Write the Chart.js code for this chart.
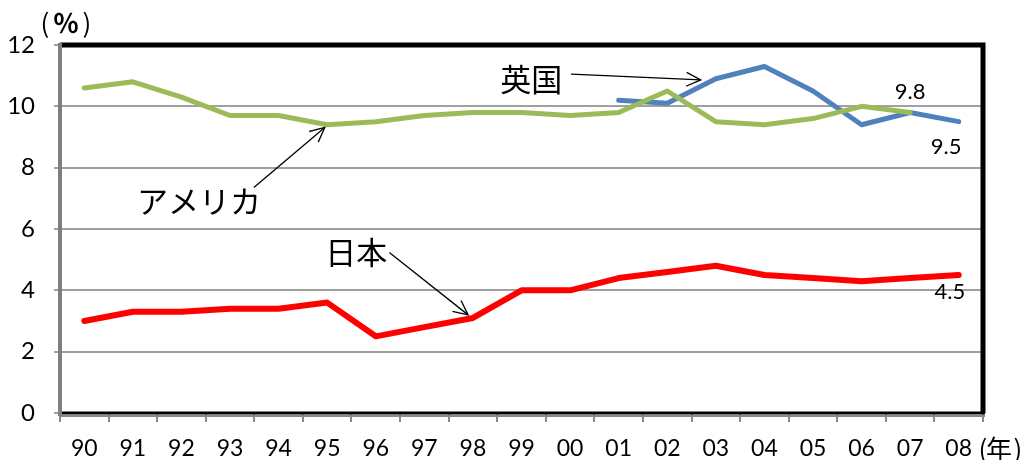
<!DOCTYPE html>
<html>
<head>
<meta charset="utf-8">
<script src="https://cdn.jsdelivr.net/npm/chart.js@4/dist/chart.umd.min.js"></script>
<style>
  html, body { margin: 0; padding: 0; background: #fff; }
  #wrap { width: 1032px; height: 460px; position: relative; }
</style>
</head>
<body>
<div id="wrap"><canvas id="myChart"></canvas></div>
<script>
const years = ['90','91','92','93','94','95','96','97','98','99','00','01','02','03','04','05','06','07','08'];
const japan = [3.0, 3.3, 3.3, 3.4, 3.4, 3.6, 2.5, 2.8, 3.1, 4.0, 4.0, 4.4, 4.6, 4.8, 4.5, 4.4, 4.3, 4.4, 4.5];
const america = [10.6, 10.8, 10.3, 9.7, 9.7, 9.4, 9.5, 9.7, 9.8, 9.8, 9.7, 9.8, 10.5, 9.5, 9.4, 9.6, 10.0, 9.8, null];
const uk = [null, null, null, null, null, null, null, null, null, null, null, 10.2, 10.1, 10.9, 11.3, 10.5, 9.4, 9.8, 9.5];
const yTicks = [0, 2, 4, 6, 8, 10, 12];

// callouts: text at (x index, value), arrow [from idx, from val, to idx, to val]
const callouts = [
  { text: '英国', x: 9.2, y: 10.9, arrow: [10.02, 11.05, 12.69, 10.86] },
  { text: 'アメリカ', x: 2.36, y: 6.9, arrow: [3.49, 7.35, 4.95, 9.31] },
  { text: '日本', x: 5.6, y: 5.23, arrow: [6.28, 5.23, 7.9, 3.2] }
];
const valueLabels = [
  { text: '9.8', x: 17.0, y: 10.46 },
  { text: '9.5', x: 17.74, y: 8.69 },
  { text: '4.5', x: 17.82, y: 3.95 }
];

const jpFont = '"Noto Sans CJK JP", "Noto Sans", sans-serif';
const numFont = 'Lato, "Noto Sans", sans-serif';

function arrowHead(ctx, x1, y1, x2, y2, len) {
  const a = Math.atan2(y2 - y1, x2 - x1);
  ctx.beginPath();
  ctx.moveTo(x2 - len * Math.cos(a - 0.45), y2 - len * Math.sin(a - 0.45));
  ctx.lineTo(x2, y2);
  ctx.lineTo(x2 - len * Math.cos(a + 0.45), y2 - len * Math.sin(a + 0.45));
  ctx.stroke();
}

// unit label drawn piece by piece: "(" text ")" with glyph centres given
function unitLabel(ctx, mid, x0, x1, x2, y, size, bold) {
  ctx.font = size + 'px ' + jpFont;
  ctx.fillText('(', x0, y);
  ctx.fillText(')', x2, y);
  ctx.font = (bold ? 'bold ' : '') + size + 'px ' + jpFont;
  ctx.fillText(mid, x1, y);
}

const frame = {
  id: 'frame',
  beforeDatasetsDraw(chart) {
    const { ctx, chartArea: a } = chart;
    ctx.save();
    // top + right black border
    ctx.strokeStyle = '#000';
    ctx.lineWidth = 5;
    ctx.beginPath();
    ctx.moveTo(a.left, a.top);
    ctx.lineTo(a.right, a.top);
    ctx.lineTo(a.right, a.bottom);
    ctx.stroke();
    // bottom
    ctx.lineWidth = 3;
    ctx.beginPath();
    ctx.moveTo(a.left, a.bottom);
    ctx.lineTo(a.right + 2, a.bottom);
    ctx.stroke();
    ctx.strokeStyle = '#888';
    ctx.lineWidth = 2;
    ctx.beginPath();
    ctx.moveTo(a.left, a.bottom + 3);
    ctx.lineTo(a.right + 2, a.bottom + 3);
    ctx.stroke();
    // left gray axis
    ctx.strokeStyle = '#7f7f7f';
    ctx.lineWidth = 4;
    ctx.beginPath();
    ctx.moveTo(a.left, a.top - 2);
    ctx.lineTo(a.left, a.bottom + 3);
    ctx.stroke();
    ctx.restore();
  },
  afterDatasetsDraw(chart) {
    const { ctx, chartArea: a } = chart;
    const xs = chart.scales.x, ys = chart.scales.y;
    ctx.save();
    ctx.fillStyle = '#000';
    ctx.strokeStyle = '#000';
    ctx.lineWidth = 1.3;
    ctx.textAlign = 'center';
    ctx.textBaseline = 'middle';
    callouts.forEach(c => {
      ctx.font = '31px ' + jpFont;
      ctx.fillText(c.text, xs.getPixelForValue(c.x), ys.getPixelForValue(c.y));
      const [fx, fy, tx, ty] = c.arrow;
      const x1 = xs.getPixelForValue(fx), y1 = ys.getPixelForValue(fy);
      const x2 = xs.getPixelForValue(tx), y2 = ys.getPixelForValue(ty);
      ctx.beginPath();
      ctx.moveTo(x1, y1);
      ctx.lineTo(x2, y2);
      ctx.stroke();
      arrowHead(ctx, x1, y1, x2, y2, 16);
    });
    ctx.font = '22px ' + numFont;
    valueLabels.forEach(l => {
      ctx.fillText(l.text, xs.getPixelForValue(l.x), ys.getPixelForValue(l.y));
    });
    // unit labels
    unitLabel(ctx, '％', 45, 66, 87, 23, 26, true);
    unitLabel(ctx, '年', a.right, a.right + 16, a.right + 35, 449, 26, false);
    ctx.restore();
  }
};

const ctx = document.getElementById('myChart').getContext('2d');

new Chart(ctx, {
  type: 'line',
  data: {
    labels: years,
    datasets: [
      { label: '日本', data: japan, borderColor: '#ff0000', borderWidth: 6 },
      { label: 'アメリカ', data: america, borderColor: '#9bbb59', borderWidth: 5 },
      { label: '英国', data: uk, borderColor: '#4f81bd', borderWidth: 5 }
    ]
  },
  options: {
    animation: false,
    responsive: true,
    maintainAspectRatio: false,
    layout: { padding: { top: 45, right: 49, left: 0, bottom: 0 } },
    elements: {
      point: { radius: 0, hoverRadius: 0 },
      line: { tension: 0, borderCapStyle: 'round', borderJoinStyle: 'round' }
    },
    scales: {
      x: {
        offset: true,
        border: { display: false },
        grid: { drawOnChartArea: false, offset: true, color: '#888', lineWidth: 2, tickLength: 9 },
        ticks: { color: '#000', padding: 13, maxRotation: 0, autoSkip: false, font: { family: numFont, size: 23 } },
        afterFit: s => { s.height = 47; }
      },
      y: {
        min: 0,
        max: 12,
        border: { display: false },
        afterBuildTicks: s => { s.ticks = yTicks.map(v => ({ value: v })); },
        grid: { color: '#a0a0a0', lineWidth: 2, tickLength: 6 },
        ticks: { color: '#000', padding: 19, font: { family: numFont, size: 24 } },
        afterFit: s => { s.width = 60; }
      }
    },
    plugins: {
      legend: { display: false },
      tooltip: { enabled: false }
    }
  },
  plugins: [frame]
});
</script>
</body>
</html>
